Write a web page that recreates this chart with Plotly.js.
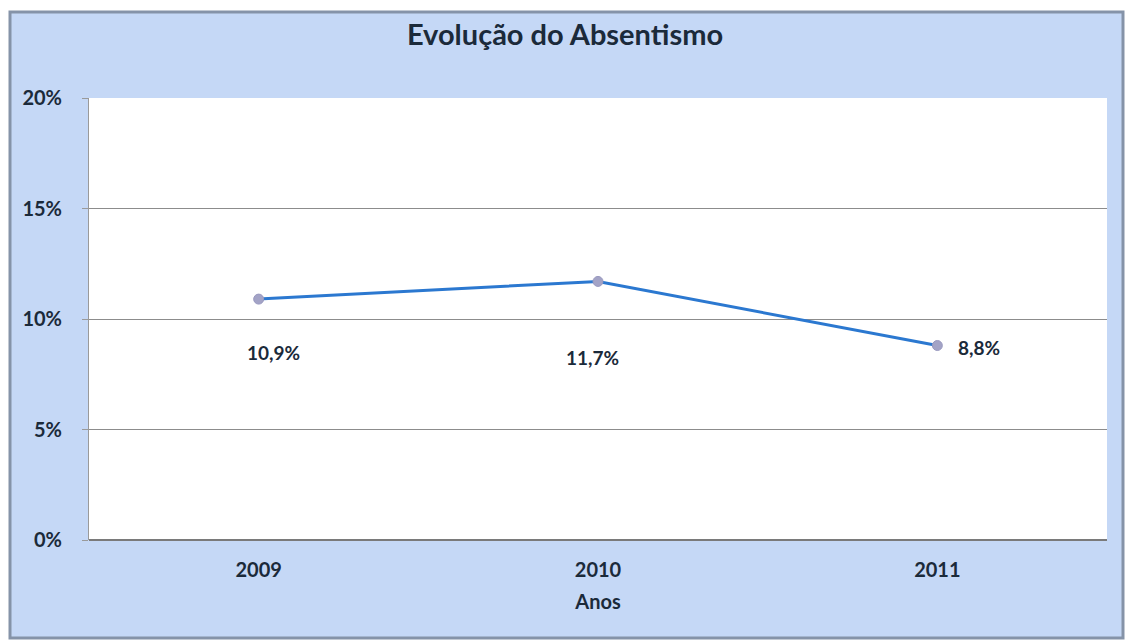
<!DOCTYPE html>
<html>
<head>
<meta charset="utf-8">
<script src="https://cdn.plot.ly/plotly-3.0.1.min.js"></script>
<style>html,body{margin:0;padding:0;background:#fff;}#chart{width:1130px;height:642px;}</style>
</head>
<body>
<div id="chart"></div>
<script>
const years = ['2009', '2010', '2011'];
const absentismo = [10.9, 11.7, 8.8];
const yTicks = [0, 5, 10, 15, 20];
const labelShiftX = [15, -6, 42];
const labelShiftY = [-53, -76, -2];

const labels = absentismo.map(v => v.toFixed(1).replace('.', ',') + '%');
const textColor = '#1b2a3a';
const fontFam = 'Lato, "Open Sans", sans-serif';

const trace = {
  x: years,
  y: absentismo,
  type: 'scatter',
  mode: 'lines+markers',
  line: {color: '#2b78d0', width: 3},
  marker: {color: '#a3a3c6', size: 10, line: {color: '#9a9ac0', width: 1}},
  hoverinfo: 'skip'
};

const annotations = years.map((yr, i) => ({
  x: i, y: absentismo[i], xref: 'x', yref: 'y',
  text: '<b>' + labels[i] + '</b>', showarrow: false,
  xanchor: 'center', yanchor: 'middle',
  xshift: labelShiftX[i], yshift: labelShiftY[i],
  font: {family: fontFam, size: 19, color: textColor}
}));

const layout = {
  width: 1130, height: 642,
  margin: {l: 89, r: 23, t: 98, b: 102},
  paper_bgcolor: '#ffffff',
  plot_bgcolor: '#ffffff',
  showlegend: false,
  title: {
    text: '<b>Evolução do Absentismo</b>',
    font: {family: fontFam, size: 29, color: textColor},
    x: 0.5, xanchor: 'center', y: 0.945, yanchor: 'middle'
  },
  xaxis: {
    type: 'category',
    range: [-0.5, 2.5],
    showgrid: false,
    showline: false,
    zeroline: false,
    ticks: '',
    tickfont: {family: fontFam, size: 20, color: textColor, weight: 'bold'},
    ticklabelstandoff: 16,
    title: {text: '<b>Anos</b>', font: {family: fontFam, size: 20, color: textColor}, standoff: 14},
    fixedrange: true
  },
  yaxis: {
    range: [0, 20],
    tickvals: yTicks,
    ticktext: yTicks.map(v => v + '%'),
    showgrid: true,
    gridcolor: '#8c8c8c',
    gridwidth: 1,
    zeroline: true,
    zerolinecolor: '#7a7a7a',
    zerolinewidth: 1.5,
    showline: true,
    linecolor: '#9a9a9a',
    linewidth: 1,
    ticks: 'outside',
    ticklen: 6,
    tickcolor: '#9a9a9a',
    tickfont: {family: fontFam, size: 20, color: textColor, weight: 'bold'},
    ticklabelstandoff: 16,
    fixedrange: true
  },
  shapes: [
    {type: 'rect', xref: 'paper', yref: 'paper', layer: 'below',
     x0: (10 - 89) / 1018, x1: (1123 - 89) / 1018,
     y0: (540 - 638) / 442, y1: (540 - 12) / 442,
     fillcolor: '#c5d8f6', line: {color: '#8593a8', width: 3}},
    {type: 'rect', xref: 'paper', yref: 'paper', layer: 'below',
     x0: 0, x1: 1, y0: 0, y1: 1,
     fillcolor: '#ffffff', line: {width: 0}}
  ],
  annotations: annotations
};

Plotly.newPlot('chart', [trace], layout, {staticPlot: true, displayModeBar: false});
</script>
</body>
</html>
